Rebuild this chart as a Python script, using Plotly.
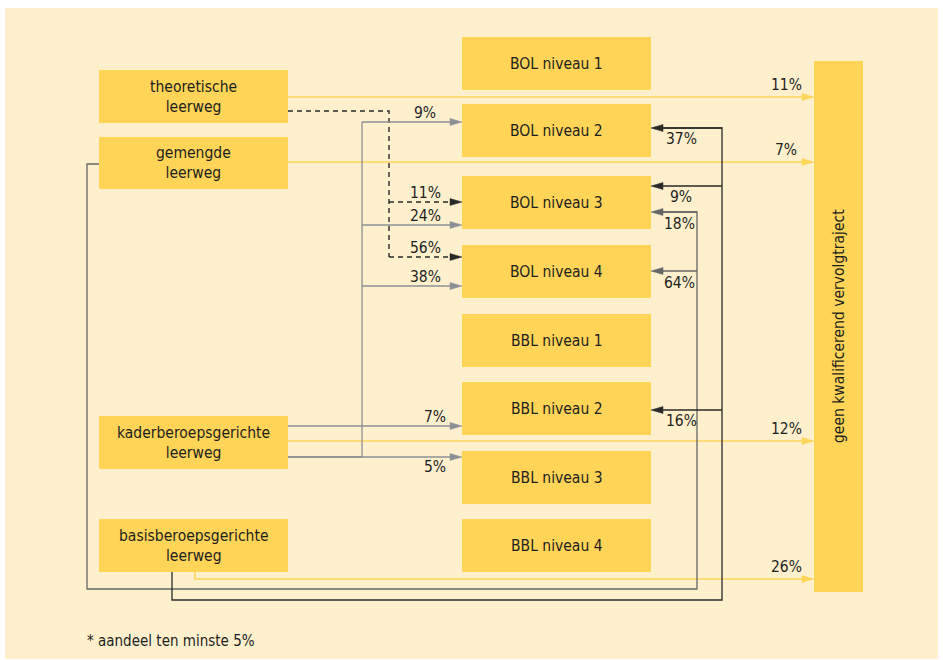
import plotly.graph_objects as go

# ---------------- data ----------------
source_labels = ["theoretische<br>leerweg", "gemengde<br>leerweg",
                 "kaderberoepsgerichte<br>leerweg", "basisberoepsgerichte<br>leerweg"]
target_labels = ["BOL niveau 1", "BOL niveau 2", "BOL niveau 3", "BOL niveau 4",
                 "BBL niveau 1", "BBL niveau 2", "BBL niveau 3", "BBL niveau 4"]
exit_label = "geen kwalificerend vervolgtraject"
exit_pct = [11, 7, 12, 26]                       # per source -> geen vervolgtraject
theor_targets = ["BOL niveau 3", "BOL niveau 4"]
theor_pct = [11, 56]
kader_targets = ["BOL niveau 2", "BOL niveau 3", "BOL niveau 4", "BBL niveau 2", "BBL niveau 3"]
kader_pct = [9, 24, 38, 7, 5]
gemengd_targets = ["BOL niveau 3", "BOL niveau 4"]
gemengd_pct = [18, 64]
basis_targets = ["BOL niveau 2", "BOL niveau 3", "BBL niveau 2"]
basis_pct = [37, 9, 16]
footnote = "* aandeel ten minste 5%"

# ---------------- layout / style ----------------
W, H = 943, 660
PANEL = "#FEF0CD"
BOX = "#FFD457"
TXT = "#1E1E1E"
GRAY = "#8E9097"
DARK = "#2A2A2A"
MID = "#666666"
FONT = "DejaVu Sans Condensed, Liberation Sans Narrow, Roboto, sans-serif"

SRC_X = (99, 288)
SRC_Y = [(70, 123), (137, 189), (416, 469), (519, 572)]
TGT_X = (462, 651)
TGT_TOP = [37, 104, 176, 245, 314, 382, 451, 519]
TGT_H = 53
EXIT_BOX = (814, 61, 863, 592)

shapes = []
annotations = []


def rect(x0, y0, x1, y1, color):
    shapes.append(dict(type="rect", xref="x", yref="y", x0=x0, y0=y0, x1=x1, y1=y1,
                       fillcolor=color, line=dict(width=0), layer="below"))


def poly(pts, color, width=1.3, dash="solid"):
    path = "M " + " L ".join(f"{x},{y}" for x, y in pts)
    shapes.append(dict(type="path", xref="x", yref="y", path=path,
                       line=dict(color=color, width=width, dash=dash)))


def head(x, y, color, direction):
    L, hw = 12, 3.5
    bx = x - L if direction == "right" else x + L
    path = f"M {x},{y} L {bx},{y - hw} L {bx},{y + hw} Z"
    shapes.append(dict(type="path", xref="x", yref="y", path=path,
                       fillcolor=color, line=dict(color=color, width=0.5)))


def label(x, y, text, size=15.5, **kw):
    annotations.append(dict(x=x, y=y, xref="x", yref="y", text=text, showarrow=False,
                            font=dict(family=FONT, size=size, color=TXT), **kw))


# panel
rect(5, 8, 938, 659, PANEL)

# boxes
for lab, (y0, y1) in zip(source_labels, SRC_Y):
    rect(SRC_X[0], y0, SRC_X[1], y1, BOX)
    label((SRC_X[0] + SRC_X[1]) / 2, (y0 + y1) / 2, lab, size=15.5)
for lab, t in zip(target_labels, TGT_TOP):
    rect(TGT_X[0], t, TGT_X[1], t + TGT_H, BOX)
    label((TGT_X[0] + TGT_X[1]) / 2, t + TGT_H / 2, lab, size=15.5)
rect(*EXIT_BOX, BOX)
label((EXIT_BOX[0] + EXIT_BOX[2]) / 2, (EXIT_BOX[1] + EXIT_BOX[3]) / 2, exit_label,
      size=15.5, textangle=-90)

# exits (yellow)
exit_y = [97, 162, 441, 579]
for i, (p, y) in enumerate(zip(exit_pct, exit_y)):
    if i == 3:
        poly([(195, SRC_Y[3][1]), (195, y), (EXIT_BOX[0] - 10, y)], BOX, 1.6)
    else:
        poly([(SRC_X[1], y), (EXIT_BOX[0] - 10, y)], BOX, 1.6)
    head(EXIT_BOX[0], y, BOX, "right")
    label(786, y - 12, f"{p}%")

# theoretische (dashed)
tx = 389
t_ys = [202, 257]
DASH = "5px,4px"
poly([(SRC_X[1], 111), (tx, 111), (tx, t_ys[-1])], DARK, 1.4, DASH)
for n, p, y in zip(theor_targets, theor_pct, t_ys):
    poly([(tx, y), (TGT_X[0] - 10, y)], DARK, 1.4, DASH)
    head(TGT_X[0], y, DARK, "right")
    label(425, y - 9, f"{p}%")

# kader (gray)
kx = 362
k_ys = [122, 225, 286, 426, 457]
poly([(SRC_X[1], 457), (kx, 457), (kx, 122)], GRAY, 1.3)
for n, p, y in zip(kader_targets, kader_pct, k_ys):
    x_start = kx if n.startswith("BOL") else SRC_X[1]
    poly([(x_start, y), (TGT_X[0] - 10, y)], GRAY, 1.3)
    head(TGT_X[0], y, GRAY, "right")
    if n == "BBL niveau 3":
        label(435, y + 10, f"{p}%")
    elif n == "BBL niveau 2":
        label(435, y - 9, f"{p}%")
    else:
        label(425, y - 9, f"{p}%")

# gemengde (mid gray, loops round the left)
gx = 697
g_ys = [212, 271]
poly([(SRC_X[0], 164), (87, 164), (87, 589), (gx, 589), (gx, g_ys[0]), (TGT_X[1] + 10, g_ys[0])], MID, 1.3)
for n, p, y in zip(gemengd_targets, gemengd_pct, g_ys):
    poly([(gx, y), (TGT_X[1] + 10, y)], MID, 1.3)
    head(TGT_X[1], y, MID, "left")
    label(679, y + 12, f"{p}%")

# basis (dark)
bx = 722
b_ys = [128, 186, 410]
poly([(172, SRC_Y[3][1]), (172, 600), (bx, 600), (bx, b_ys[0]), (TGT_X[1] + 10, b_ys[0])], DARK, 1.3)
for n, p, y in zip(basis_targets, basis_pct, b_ys):
    poly([(bx, y), (TGT_X[1] + 10, y)], DARK, 1.3)
    head(TGT_X[1], y, DARK, "left")
    label(681, y + 11, f"{p}%")

label(85, 641, footnote, size=15, xanchor="left")

fig = go.Figure()
fig.add_trace(go.Scatter(x=[0, W], y=[0, H], mode="markers", marker=dict(opacity=0),
                         hoverinfo="skip", showlegend=False))
fig.update_layout(
    width=W, height=H, margin=dict(l=0, r=0, t=0, b=0),
    paper_bgcolor="white", plot_bgcolor="white",
    xaxis=dict(range=[0, W], visible=False, fixedrange=True),
    yaxis=dict(range=[H, 0], visible=False, fixedrange=True),
    shapes=shapes, annotations=annotations, showlegend=False,
)
fig.write_html("out.html", config={"displayModeBar": False},
               post_script="document.body.style.margin='0';document.body.style.overflow='hidden';")
